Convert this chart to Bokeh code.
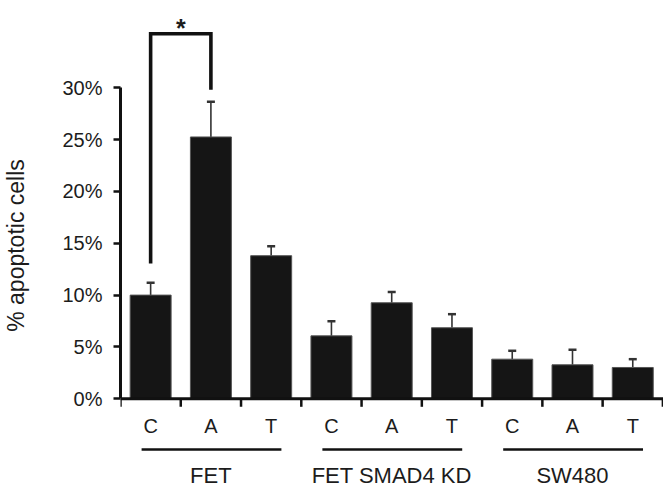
from bokeh.plotting import figure
from bokeh.models import Range1d, FixedTicker, Whisker, TeeHead, ColumnDataSource
from bokeh.core.properties import value
from bokeh.embed import file_html
from bokeh.resources import INLINE

# ---- data ----
cell_lines = ["FET", "FET SMAD4 KD", "SW480"]
treatments = ["C", "A", "T"]
pct_apoptotic = [10.0, 25.25, 13.8, 6.07, 9.26, 6.85, 3.82, 3.28, 3.02]
pct_error = [1.2, 3.4, 0.9, 1.41, 1.04, 1.31, 0.81, 1.45, 0.80]
yticks = [0, 5, 10, 15, 20, 25, 30]
ytick_labels = ["0%", "5%", "10%", "15%", "20%", "25%", "30%"]
sig_pair = [0, 1]            # bars compared (FET C vs FET A)
sig_bracket_y = [13.05, 35.2, 35.2, 29.8]
sig_mark = "*"

FONT = "Liberation Sans"
TXT = "#1c1c1c"
INK = "#111111"

W, H = 663, 490
LEFT, RIGHT = 120, 0
zero_px = 398.3            # screen y (from top) of 0%
S = 10.37                  # pixels per percent
ymax = zero_px / S
ymin = -(H - zero_px) / S

n = len(pct_apoptotic)
xc = [i + 0.5 for i in range(n)]
src = ColumnDataSource(dict(
    x=xc, top=pct_apoptotic,
    upper=[v + e for v, e in zip(pct_apoptotic, pct_error)],
))

p = figure(width=W, height=H, output_backend="svg", toolbar_location=None,
           x_range=Range1d(0, 9.01), y_range=Range1d(ymin, ymax),
           x_axis_location=None, min_border_left=LEFT, min_border_right=RIGHT,
           min_border_top=0, min_border_bottom=0)
p.outline_line_color = None
p.grid.visible = False
p.background_fill_color = "white"
p.border_fill_color = "white"

# y axis
ya = p.yaxis[0]
ya.bounds = (0, 30)
ya.ticker = FixedTicker(ticks=yticks)
ya.major_label_overrides = {t: l for t, l in zip(yticks, ytick_labels)}
ya.axis_line_width = 3
ya.axis_line_color = INK
ya.major_tick_line_width = 2.5
ya.major_tick_line_color = INK
ya.major_tick_in = 0
ya.major_tick_out = 7
ya.minor_tick_line_color = None
ya.major_label_standoff = 11
ya.major_label_text_font = FONT
ya.major_label_text_font_size = "20px"
ya.major_label_text_color = TXT
ya.axis_label = "% apoptotic cells"
ya.axis_label_text_font = FONT
ya.axis_label_text_font_size = "23px"
ya.axis_label_text_font_style = "normal"
ya.axis_label_text_color = TXT
ya.axis_label_standoff = 30

# error bars (upward only)
p.add_layout(Whisker(source=src, base="x", lower="top", upper="upper",
                     line_color="#333333", line_width=1.6, lower_head=None,
                     upper_head=TeeHead(size=8, line_width=2.5, line_color="#333333")))

# bars
p.vbar(x="x", top="top", bottom=0, width=0.68, source=src,
       fill_color="#151515", line_color="#555555", line_width=1)

# x axis line and ticks (drawn manually at y = 0)
p.segment(x0=[0], y0=[0], x1=[9.01], y1=[0], line_width=3, line_color=INK)
tick_x = list(range(n + 1))
p.segment(x0=tick_x, y0=[0] * len(tick_x), x1=tick_x, y1=[-8 / S] * len(tick_x),
          line_width=2.5, line_color=INK)

# treatment labels
p.text(x=xc, y=[-26.7 / S] * n, text=treatments * len(cell_lines),
       text_font=value(FONT), text_font_size="20px", text_color=TXT,
       text_align="center", text_baseline="middle")

# group underlines and labels
g = len(treatments)
gx0 = [k * g + 0.35 for k in range(len(cell_lines))]
gx1 = [k * g + g - 0.33 for k in range(len(cell_lines))]
p.segment(x0=gx0, y0=[-50.7 / S] * len(cell_lines), x1=gx1, y1=[-50.7 / S] * len(cell_lines),
          line_width=2.6, line_color=INK)
p.text(x=[k * g + g / 2 for k in range(len(cell_lines))], y=[-77.0 / S] * len(cell_lines),
       text=cell_lines, text_font=value(FONT), text_font_size="22px", text_color=TXT,
       text_align="center", text_baseline="middle")

# significance bracket
bx = [xc[sig_pair[0]], xc[sig_pair[0]], xc[sig_pair[1]], xc[sig_pair[1]]]
p.line(x=bx, y=sig_bracket_y, line_width=3.6, line_color=INK, line_join="miter")
p.text(x=[(bx[0] + bx[-1]) / 2], y=[sig_bracket_y[1] + 0.6], text=[sig_mark],
       text_font=value(FONT), text_font_size="25px", text_font_style="bold",
       text_color=TXT, text_align="center", text_baseline="middle")

open("out.html", "w").write(file_html(p, INLINE))
